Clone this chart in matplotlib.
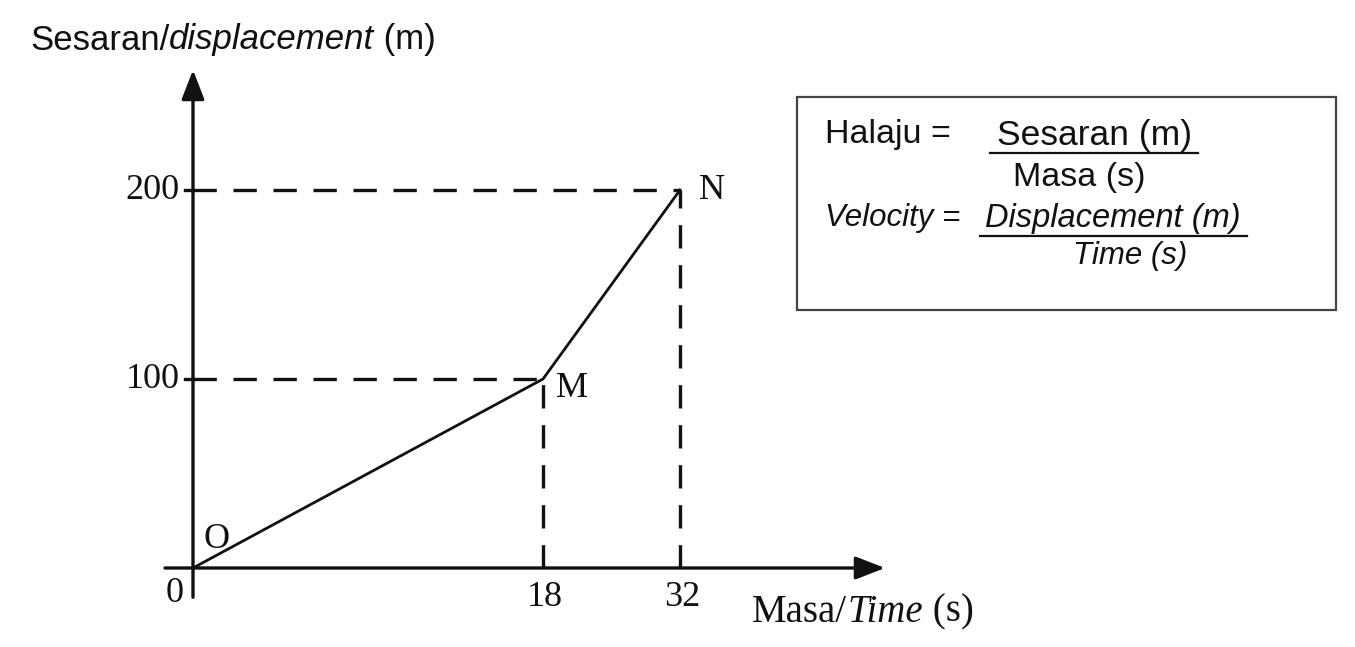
import numpy as np
import matplotlib.pyplot as plt
from matplotlib.patches import Rectangle
from matplotlib.lines import Line2D

# data
time_s = [0, 18, 32]
displacement_m = [0, 100, 200]
point_labels = ['O', 'M', 'N']
x_ticks = [18, 32]
y_ticks = [100, 200]

W, H = 1355, 647
SERIF = 'Liberation Serif'
SANS = 'Liberation Sans'
INK = '#111111'

fig = plt.figure(figsize=(W / 100, H / 100), dpi=100)
ax = fig.add_axes([0, 0, 1, 1])


# the sketch is not to scale: 0-18 is drawn much wider than 18-32
def fwd(x):
    x = np.asarray(x, dtype=float)
    return np.where(x <= 18, x * 350 / 18, 350 + (x - 18) * 137 / 14)


def inv(p):
    p = np.asarray(p, dtype=float)
    return np.where(p <= 350, p * 18 / 350, 18 + (p - 350) * 14 / 137)


ax.set_xscale('function', functions=(fwd, inv))
ax.set_xlim(float(inv(-193)), float(inv(W - 193)))
ax.set_ylim(-(H - 568) / 1.89, 568 / 1.89)
ax.axis('off')

# axes with arrow heads
arrow = dict(arrowstyle='-|>,head_length=0.9,head_width=0.35', lw=2.4,
             color=INK, mutation_scale=20, shrinkA=0, shrinkB=0)
ax.annotate('', xy=(float(inv(692)), 0), xytext=(float(inv(-28)), 0), arrowprops=arrow)
ax.annotate('', xy=(0, 263.5), xytext=(0, -15.5), arrowprops=arrow)

# dashed guide lines
dash = dict(color=INK, lw=2.4, ls=(0, (7, 5)), solid_capstyle='butt')
for x, y in zip(time_s[1:], displacement_m[1:]):
    ax.plot([0, x], [y, y], **dash)
    ax.plot([x, x], [0, y], **dash)

# y tick marks
for y in y_ticks:
    ax.plot([float(inv(-8)), 0], [y, y], color=INK, lw=2.4)

# the graph itself
ax.plot(time_s, displacement_m, color=INK, lw=2.0, solid_joinstyle='miter')

# tick labels
tick_font = dict(family=SERIF, fontsize=26, color=INK)
for y in y_ticks:
    ax.annotate(str(y), xy=(0, y), xytext=(-13, 0), textcoords='offset pixels',
                ha='right', va='center', **tick_font)
for x in x_ticks:
    ax.annotate(str(x), xy=(x, 0), xytext=(2, -29), textcoords='offset pixels',
                ha='center', va='center', **tick_font)
ax.annotate('0', xy=(0, 0), xytext=(-18, -26), textcoords='offset pixels',
            ha='center', va='center', **tick_font)

# point labels
offsets = [(24, 29), (29, -9), (32, 0)]
for x, y, lab, off in zip(time_s, displacement_m, point_labels, offsets):
    ax.annotate(lab, xy=(x, y), xytext=off, textcoords='offset pixels',
                ha='center', va='center', **tick_font)


def px(x, y):
    return x / W, 1 - y / H


def chain(parts, x, y, family, size):
    """write text pieces one after another, each with its own style"""
    first, style = parts[0]
    prev = fig.text(*px(x, y), first, style=style, family=family, fontsize=size,
                    color=INK, ha='left', va='center')
    for s, style in parts[1:]:
        prev = ax.annotate(s, xy=(1, 0), xycoords=prev, ha='left', va='bottom',
                           style=style, family=family, fontsize=size, color=INK)


chain([('Sesaran/', 'normal'), ('displacement', 'italic'), (' (m)', 'normal')],
      30, 40, SANS, 25)
chain([('Masa/', 'normal'), ('Time', 'italic'), (' (s)', 'normal')],
      752, 612, SERIF, 28)

# formula box
fig.patches.append(Rectangle(px(797, 310), 539 / W, 213 / H, transform=fig.transFigure,
                             fill=False, edgecolor='#444444', lw=1.6))
box_font = dict(family=SANS, color=INK)
fig.text(*px(825, 135), 'Halaju =', ha='left', va='center', fontsize=24.5, **box_font)
fig.text(*px(1095, 135), 'Sesaran (m)', ha='center', va='center', fontsize=25.5, **box_font)
fig.text(*px(1079, 178), 'Masa (s)', ha='center', va='center', fontsize=24.5, **box_font)
fig.text(*px(825, 218), 'Velocity =', ha='left', va='center', fontsize=22.5,
         style='italic', **box_font)
fig.text(*px(1113, 218), 'Displacement (m)', ha='center', va='center', fontsize=23.5,
         style='italic', **box_font)
fig.text(*px(1130, 256), 'Time (s)', ha='center', va='center', fontsize=22.5,
         style='italic', **box_font)
for x0, x1, y in [(990, 1198, 153), (980, 1247, 236)]:
    fig.lines.append(Line2D([x0 / W, x1 / W], [1 - y / H] * 2, transform=fig.transFigure,
                            color=INK, lw=1.6))

fig.savefig('out.png', dpi=100, facecolor='white')
